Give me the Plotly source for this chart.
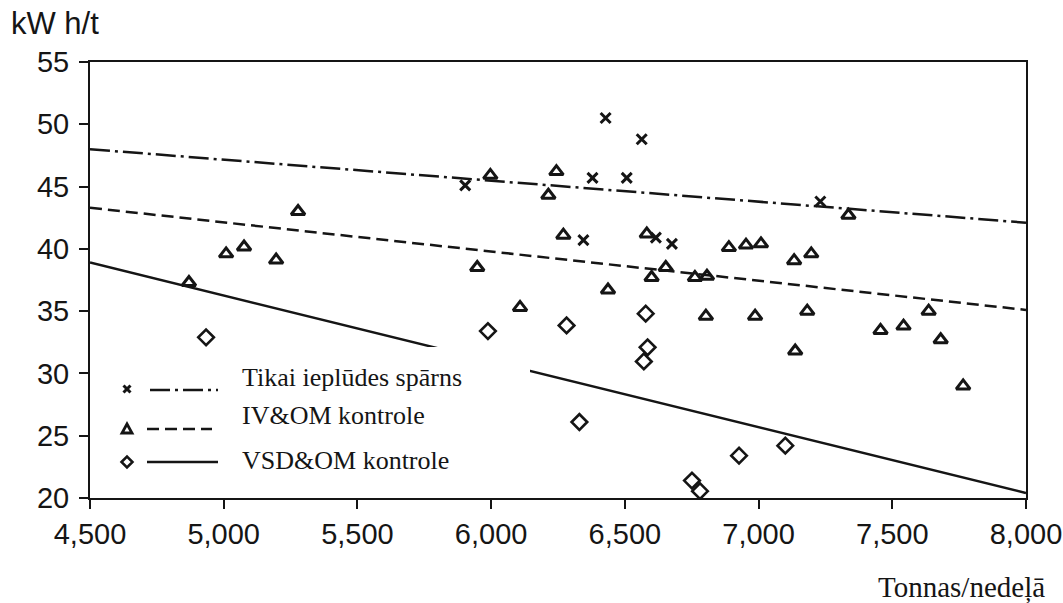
import plotly.graph_objects as go

# ---- data ----
series_names = ["Tikai ieplūdes spārns", "IV&OM kontrole", "VSD&OM kontrole"]

tikai_x = [5903, 6379, 6428, 6507, 6563, 6345, 6616, 6676, 7231]
tikai_y = [45.1, 45.7, 50.5, 45.7, 48.8, 40.7, 40.9, 40.4, 43.8]

ivom_x = [4870, 5009, 5076, 5196, 5278, 5948, 5997, 6108, 6214, 6244, 6270, 6437,
          6582, 6600, 6653, 6762, 6807, 6803, 6889, 6953, 6987, 7009, 7133, 7137,
          7182, 7197, 7336, 7456, 7542, 7636, 7681, 7765]
ivom_y = [37.3, 39.6, 40.15, 39.1, 43.0, 38.5, 45.9, 35.3, 44.3, 46.2, 41.1, 36.7,
          41.2, 37.7, 38.5, 37.7, 37.8, 34.6, 40.1, 40.3, 34.6, 40.4, 39.05, 31.8,
          35.0, 39.6, 42.7, 33.45, 33.8, 35.0, 32.7, 29.0]

vsd_x = [4934, 5988, 6282, 6330, 6578, 6585, 6571, 6751, 6781, 6927, 7100]
vsd_y = [32.9, 33.4, 33.85, 26.1, 34.8, 32.1, 30.96, 21.4, 20.55, 23.4, 24.2]

trend_x = [4500, 8000]
tikai_trend = [48.0, 42.1]
ivom_trend = [43.3, 35.1]
vsd_trend = [38.9, 20.4]

x_ticks = [4500, 5000, 5500, 6000, 6500, 7000, 7500, 8000]
y_ticks = [20, 25, 30, 35, 40, 45, 50, 55]
y_title = "kW h/t"
x_title = "Tonnas/nedeļā"

INK = "#151515"
DASHDOT = "20px,5px,3px,5px"
DASH = "12px,6px"

fig = go.Figure()

# trend lines
fig.add_trace(go.Scatter(x=trend_x, y=tikai_trend, mode="lines",
                         line=dict(color=INK, width=2.5, dash=DASHDOT), showlegend=False))
fig.add_trace(go.Scatter(x=trend_x, y=ivom_trend, mode="lines",
                         line=dict(color=INK, width=2.5, dash=DASH), showlegend=False))
fig.add_trace(go.Scatter(x=trend_x, y=vsd_trend, mode="lines",
                         line=dict(color=INK, width=2.5), showlegend=False))

# points
fig.add_trace(go.Scatter(x=tikai_x, y=tikai_y, mode="markers", name=series_names[0],
                         marker=dict(symbol="x-thin", size=10, color=INK,
                                     line=dict(color=INK, width=3)), showlegend=False))
fig.add_trace(go.Scatter(x=ivom_x, y=ivom_y, mode="markers", name=series_names[1],
                         marker=dict(symbol="triangle-up-open", size=12, color=INK,
                                     line=dict(color=INK, width=3)), showlegend=False))
fig.add_trace(go.Scatter(x=vsd_x, y=vsd_y, mode="markers", name=series_names[2],
                         marker=dict(symbol="diamond-open", size=12, color=INK,
                                     line=dict(color=INK, width=2.6)), showlegend=False))

# plot area in pixels: x 90..1026, y 62..498
L, R, T, B = 90, 1026, 62, 498
def px(xp):
    return (xp - L) / (R - L)
def py(yp):
    return (B - yp) / (B - T)

def path(points, close=True):
    s = " ".join(("M" if i == 0 else "L") + " %.5f,%.5f" % (px(a), py(b)) for i, (a, b) in enumerate(points))
    return s + (" Z" if close else "")

shapes = [
    dict(type="rect", xref="paper", yref="paper", x0=px(100), x1=px(530), y0=py(494), y1=py(347),
         fillcolor="white", line=dict(width=0), layer="above"),
    dict(type="line", xref="paper", yref="paper", x0=px(150), x1=px(218), y0=py(390), y1=py(390),
         line=dict(color=INK, width=2.5, dash=DASHDOT), layer="above"),
    dict(type="line", xref="paper", yref="paper", x0=px(147), x1=px(212), y0=py(429), y1=py(429),
         line=dict(color=INK, width=2.5, dash=DASH), layer="above"),
    dict(type="line", xref="paper", yref="paper", x0=px(147), x1=px(218), y0=py(462), y1=py(462),
         line=dict(color=INK, width=2.5), layer="above"),
    # legend keys
    dict(type="path", xref="paper", yref="paper", path=path([(123.5, 385.5), (130.5, 392.5)], False),
         line=dict(color=INK, width=3), layer="above"),
    dict(type="path", xref="paper", yref="paper", path=path([(123.5, 392.5), (130.5, 385.5)], False),
         line=dict(color=INK, width=3), layer="above"),
    dict(type="path", xref="paper", yref="paper", path=path([(122, 433), (132, 433), (127, 424)]),
         line=dict(color=INK, width=2.8), layer="above"),
    dict(type="path", xref="paper", yref="paper", path=path([(121.5, 462), (127, 456.5), (132.5, 462), (127, 467.5)]),
         line=dict(color=INK, width=2.5), layer="above"),
]

annotations = []
leg_font = dict(family="Liberation Serif", size=26, color=INK)
for name, yy in zip(series_names, [377, 415, 460]):
    annotations.append(dict(text=name, xref="paper", yref="paper", x=px(240), y=py(yy),
                            xanchor="left", yanchor="middle", showarrow=False, font=leg_font))

annotations.append(dict(text=y_title, xref="paper", yref="paper", x=px(9), y=py(24),
                        xanchor="left", yanchor="middle", showarrow=False,
                        font=dict(family="Liberation Sans", size=31, color=INK)))
annotations.append(dict(text=x_title, xref="paper", yref="paper", x=px(1047), y=py(587),
                        xanchor="right", yanchor="middle", showarrow=False,
                        font=dict(family="Liberation Serif", size=29, color=INK)))

fig.update_layout(
    width=1063, height=603,
    margin=dict(l=L, r=1063 - R, t=T, b=603 - B, autoexpand=False),
    paper_bgcolor="white", plot_bgcolor="white",
    shapes=shapes, annotations=annotations,
    font=dict(family="Liberation Sans", size=28, color=INK),
    showlegend=False,
)
fig.update_xaxes(range=[4500, 8000], tickvals=x_ticks, tickformat=",d", automargin=False,
                 showgrid=False, zeroline=False, showline=True, linecolor=INK, linewidth=2,
                 mirror=True, ticks="outside", ticklen=9, tickwidth=2, tickcolor=INK,
                 tickfont=dict(family="Liberation Sans", size=29, color=INK))
fig.update_yaxes(range=[20, 55], tickvals=y_ticks, automargin=False,
                 showgrid=False, zeroline=False, showline=True, linecolor=INK, linewidth=2,
                 mirror=True, ticks="outside", ticklen=9, tickwidth=2, tickcolor=INK,
                 ticklabelstandoff=4,
                 tickfont=dict(family="Liberation Sans", size=29, color=INK))

fig.write_html("out.html", config={"displayModeBar": False},
               post_script="document.body.style.margin='0';document.body.style.overflow='hidden';")
